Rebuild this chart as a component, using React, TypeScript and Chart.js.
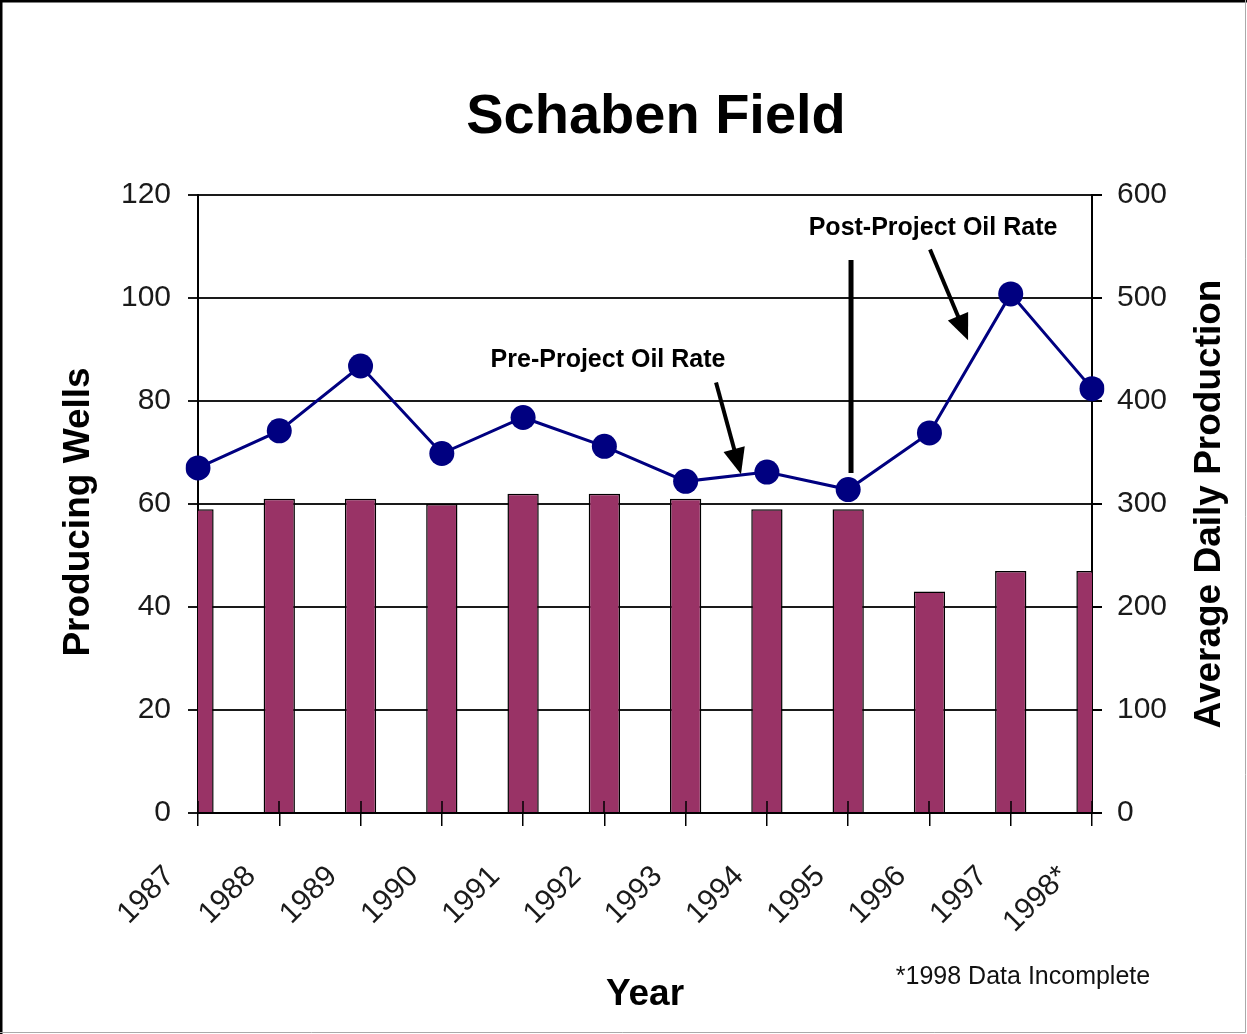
import React, { useEffect, useRef } from "react";
import { Chart, registerables } from "chart.js";

Chart.register(...registerables);

// ---- data ----
const years = ["1987", "1988", "1989", "1990", "1991", "1992", "1993", "1994", "1995", "1996", "1997", "1998*"];
const producingWells = [59, 61, 61, 60, 62, 62, 61, 59, 59, 43, 47, 47];
const avgDailyProduction = [335, 371, 434, 349, 384, 356, 322, 331, 314, 369, 504, 412];
const wellsTicks = [0, 20, 40, 60, 80, 100, 120];
const productionTicks = [0, 100, 200, 300, 400, 500, 600];

const chartTitle = "Schaben Field";
const leftTitle = "Producing Wells";
const rightTitle = "Average Daily Production";
const xTitle = "Year";
const footnote = "*1998 Data Incomplete";

// annotation anchors in data units (category index, right-axis value)
const annotationTexts = [
  { text: "Pre-Project Oil Rate", xi: 5.045, v: 433 },
  { text: "Post-Project Oil Rate", xi: 9.044, v: 561 },
];
const annotationArrows = [
  { from: [6.374, 418], to: [6.681, 329] },
  { from: [9.007, 547], to: [9.475, 459] },
];
const projectDivider = { xi: 8.035, from: 537, to: 330 };

const FONT = '"Liberation Sans", Arial, Helvetica, sans-serif';
const W = 1247;
const H = 1034;

function drawArrow(ctx: CanvasRenderingContext2D, x0: number, y0: number, x1: number, y1: number) {
  const ang = Math.atan2(y1 - y0, x1 - x0);
  const L = 26;
  const hw = 11;
  const bx = x1 - L * Math.cos(ang);
  const by = y1 - L * Math.sin(ang);
  ctx.beginPath();
  ctx.moveTo(x0, y0);
  ctx.lineTo(bx + 2 * Math.cos(ang), by + 2 * Math.sin(ang));
  ctx.lineWidth = 4;
  ctx.strokeStyle = "#000";
  ctx.stroke();
  ctx.beginPath();
  ctx.moveTo(x1, y1);
  ctx.lineTo(bx + hw * Math.sin(ang), by - hw * Math.cos(ang));
  ctx.lineTo(bx - hw * Math.sin(ang), by + hw * Math.cos(ang));
  ctx.closePath();
  ctx.fillStyle = "#000";
  ctx.fill();
}

const decorPlugin = {
  id: "decor",
  afterDatasetsDraw(chart: any) {
    const ctx: CanvasRenderingContext2D = chart.ctx;
    const xs = chart.scales.x;
    const y1 = chart.scales.y1;
    const area = chart.chartArea;
    ctx.save();
    // tick marks crossing the x axis (upper part)
    ctx.strokeStyle = "#000";
    ctx.lineWidth = 1.5;
    xs.ticks.forEach((_: any, i: number) => {
      const px = Math.round(xs.getPixelForTick(i));
      ctx.beginPath();
      ctx.moveTo(px, area.bottom - 12);
      ctx.lineTo(px, area.bottom);
      ctx.stroke();
    });
    // divider line
    const dx = xs.getPixelForValue(projectDivider.xi);
    ctx.beginPath();
    ctx.moveTo(dx, y1.getPixelForValue(projectDivider.from));
    ctx.lineTo(dx, y1.getPixelForValue(projectDivider.to));
    ctx.lineWidth = 5;
    ctx.strokeStyle = "#000";
    ctx.stroke();
    // arrows
    annotationArrows.forEach((a) => {
      drawArrow(
        ctx,
        xs.getPixelForValue(a.from[0]),
        y1.getPixelForValue(a.from[1]),
        xs.getPixelForValue(a.to[0]),
        y1.getPixelForValue(a.to[1])
      );
    });
    // annotation texts
    ctx.fillStyle = "#000";
    ctx.font = `bold 25px ${FONT}`;
    ctx.textAlign = "center";
    ctx.textBaseline = "alphabetic";
    annotationTexts.forEach((t) => {
      ctx.fillText(t.text, xs.getPixelForValue(t.xi), y1.getPixelForValue(t.v));
    });
    ctx.restore();
  },
  afterDraw(chart: any) {
    const ctx: CanvasRenderingContext2D = chart.ctx;
    ctx.save();
    ctx.fillStyle = "#000";
    // main title
    ctx.font = `bold 56px ${FONT}`;
    ctx.textAlign = "center";
    ctx.textBaseline = "alphabetic";
    ctx.fillText(chartTitle, 656, 133);
    // x title
    ctx.font = `bold 37px ${FONT}`;
    ctx.fillText(xTitle, 645, 1005);
    // footnote
    ctx.font = `25px ${FONT}`;
    ctx.fillStyle = "#111";
    ctx.fillText(footnote, 1023, 984);
    // left title
    ctx.fillStyle = "#000";
    ctx.font = `bold 37px ${FONT}`;
    ctx.textBaseline = "middle";
    ctx.save();
    ctx.translate(79, 512);
    ctx.rotate(-Math.PI / 2);
    ctx.fillText(leftTitle, 0, 0);
    ctx.restore();
    // right title (reads bottom to top)
    ctx.save();
    ctx.translate(1210, 504);
    ctx.rotate(-Math.PI / 2);
    ctx.fillText(rightTitle, 0, 0);
    ctx.restore();
    // outer frame
    ctx.strokeStyle = "#000";
    ctx.lineWidth = 2.5;
    ctx.beginPath();
    ctx.moveTo(1.25, H);
    ctx.lineTo(1.25, 1.25);
    ctx.lineTo(W, 1.25);
    ctx.stroke();
    ctx.strokeStyle = "#aaa";
    ctx.lineWidth = 1;
    ctx.beginPath();
    ctx.moveTo(W - 1.5, 0);
    ctx.lineTo(W - 1.5, H - 1.5);
    ctx.lineTo(0, H - 1.5);
    ctx.stroke();
    ctx.restore();
  },
};

export default function App() {
  const canvasRef = useRef<HTMLCanvasElement | null>(null);

  useEffect(() => {
    if (!canvasRef.current) return;
    const tickFont = { family: FONT, size: 30 };
    const chart = new Chart(canvasRef.current, {
      type: "bar",
      data: {
        labels: years,
        datasets: [
          {
            type: "line",
            label: rightTitle,
            data: avgDailyProduction,
            yAxisID: "y1",
            borderColor: "#000080",
            backgroundColor: "#000080",
            borderWidth: 3,
            pointRadius: 12.5,
            pointHoverRadius: 12.5,
            pointBackgroundColor: "#000080",
            pointBorderWidth: 0,
            tension: 0,
            order: 0,
          } as any,
          {
            type: "bar",
            label: leftTitle,
            data: producingWells,
            yAxisID: "y",
            backgroundColor: "#993366",
            borderColor: "#000",
            borderWidth: 1.5,
            barPercentage: 0.385,
            categoryPercentage: 1,
            order: 1,
          } as any,
        ],
      },
      options: {
        responsive: false,
        animation: false,
        events: [],
        layout: { padding: { top: 195, left: 0, right: 0, bottom: 0 } },
        plugins: {
          legend: { display: false },
          tooltip: { enabled: false },
          title: { display: false },
        },
        scales: {
          x: {
            offset: false,
            grid: {
              offset: false,
              drawOnChartArea: false,
              drawTicks: true,
              tickLength: 13,
              color: "#000",
              lineWidth: 1.5,
            },
            border: { display: true, color: "#000", width: 2 },
            ticks: {
              autoSkip: false,
              minRotation: 45,
              maxRotation: 45,
              labelOffset: -28,
              padding: 33,
              font: tickFont,
              color: "#1a1a1a",
            },
            afterFit(s: any) {
              s.height = H - 813;
            },
          },
          y: {
            position: "left",
            min: wellsTicks[0],
            max: wellsTicks[wellsTicks.length - 1],
            ticks: {
              stepSize: wellsTicks[1] - wellsTicks[0],
              padding: 17,
              font: tickFont,
              color: "#1a1a1a",
            },
            grid: { color: "#1a1a1a", lineWidth: 2, tickLength: 10 },
            border: { display: true, color: "#000", width: 2 },
            afterFit(s: any) {
              s.width = 198;
            },
          },
          y1: {
            position: "right",
            min: productionTicks[0],
            max: productionTicks[productionTicks.length - 1],
            ticks: {
              stepSize: productionTicks[1] - productionTicks[0],
              padding: 15,
              font: tickFont,
              color: "#1a1a1a",
            },
            grid: { drawOnChartArea: false, tickLength: 10, color: "#000", lineWidth: 2 },
            border: { display: true, color: "#000", width: 2 },
            afterFit(s: any) {
              s.width = W - 1092;
            },
          },
        },
      } as any,
      plugins: [decorPlugin],
    });
    return () => chart.destroy();
  }, []);

  return (
    <div style={{ position: "absolute", left: 0, top: 0, width: W, height: H, background: "#fff" }}>
      <canvas ref={canvasRef} width={W} height={H} style={{ display: "block" }} />
    </div>
  );
}
